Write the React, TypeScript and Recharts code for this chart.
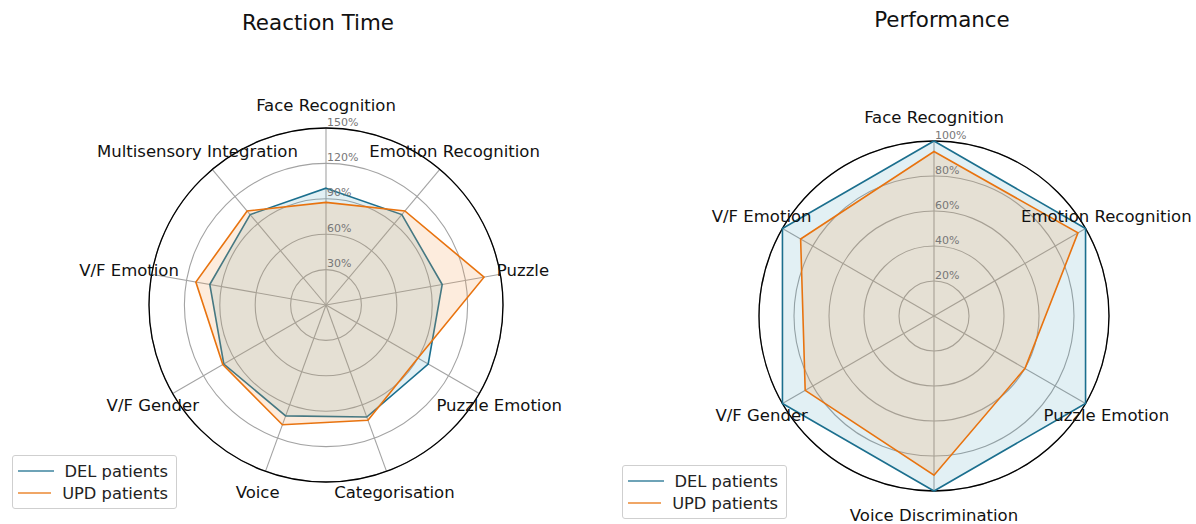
import { Legend, PolarAngleAxis, PolarGrid, PolarRadiusAxis, Radar, RadarChart } from "recharts";

const rtCategories = [
  "Face Recognition",
  "Emotion Recognition",
  "Puzzle",
  "Puzzle Emotion",
  "Categorisation",
  "Voice",
  "V/F Gender",
  "V/F Emotion",
  "Multisensory Integration",
];
const rtDel = [99, 100, 100, 100, 101, 100, 100, 100, 100];
const rtUpd = [87, 104, 136, 90, 104, 108, 101, 112, 104];
const rtTicks = [0, 30, 60, 90, 120, 150];

const perfCategories = [
  "Face Recognition",
  "Emotion Recognition",
  "Puzzle Emotion",
  "Voice Discrimination",
  "V/F Gender",
  "V/F Emotion",
];
const perfDel = [100, 100, 100, 100, 100, 100];
const perfUpd = [94, 95, 60, 91, 85, 88];
const perfTicks = [0, 20, 40, 60, 80, 100];

const seriesNames = ["DEL patients", "UPD patients"];

const rtData = rtCategories.map((subject, i) => ({ subject, del: rtDel[i], upd: rtUpd[i] }));
const perfData = perfCategories.map((subject, i) => ({ subject, del: perfDel[i], upd: perfUpd[i] }));

const FONT = "'DejaVu Sans', Verdana, sans-serif";
const DEL_COLOR = "#1b6f8e";
const UPD_COLOR = "#e8730f";

const makeAngleTick = (cx: number, cy: number, labelR: number) => (props: any) => {
  const { x, y, payload } = props;
  const dx = x - cx;
  const dy = y - cy;
  const len = Math.sqrt(dx * dx + dy * dy) || 1;
  return (
    <text
      x={cx + (dx / len) * labelR}
      y={cy + (dy / len) * labelR}
      textAnchor="middle"
      dominantBaseline="central"
      fontSize={16.5}
      fontFamily={FONT}
      fill="#111"
    >
      {payload.value}
    </text>
  );
};

const RadiusTick = (props: any) => {
  const { x, y, payload } = props;
  if (payload.value === 0) return null;
  return (
    <text x={x + 1} y={y - 6} textAnchor="start" dominantBaseline="central" fontSize={11} fontFamily={FONT} fill="#777">
      {payload.value}%
    </text>
  );
};

const LegendBox = (props: any) => {
  const { payload } = props;
  return (
    <div
      style={{
        border: "1px solid #cfcfcf",
        borderRadius: 3,
        background: "rgba(255,255,255,0.85)",
        padding: "4px 8px 4px 5px",
        fontFamily: FONT,
        fontSize: 16.3,
        color: "#222",
        width: 150,
      }}
    >
      {payload.map((entry: any) => (
        <div key={entry.value} style={{ display: "flex", alignItems: "center", height: 22 }}>
          <svg width={36} height={4} style={{ marginRight: 11 }}>
            <line x1={0} x2={36} y1={2} y2={2} stroke={entry.color} strokeOpacity={0.85} strokeWidth={1.6} />
          </svg>
          <span style={{ whiteSpace: "nowrap" }}>{entry.value}</span>
        </div>
      ))}
    </div>
  );
};

type PanelProps = {
  title: string;
  data: any[];
  ticks: number[];
  left: number;
  cx: number;
  cy: number;
  r: number;
  labelR: number;
  titleX: number;
  titleTop: number;
  legendLeft: number;
  legendTop: number;
};

const Panel = ({ title, data, ticks, left, cx, cy, r, labelR, titleX, titleTop, legendLeft, legendTop }: PanelProps) => {
  return (
    <div style={{ position: "absolute", left, top: 0, width: 598, height: 524 }}>
      <div
        style={{
          position: "absolute",
          left: titleX,
          top: titleTop,
          transform: "translateX(-50%)",
          fontFamily: FONT,
          fontSize: 21.4,
          lineHeight: "21px",
          color: "#111",
          whiteSpace: "nowrap",
        }}
      >
        {title}
      </div>
      <RadarChart
        width={598}
        height={524}
        data={data}
        cx={cx}
        cy={cy}
        outerRadius={r}
        margin={{ top: 0, right: 0, bottom: 0, left: 0 }}
      >
        <PolarGrid gridType="circle" stroke="#a3a3a3" strokeWidth={1.1} />
        <PolarGrid gridType="circle" polarRadius={[r]} radialLines={false} stroke="#000" strokeWidth={1.3} />
        <PolarAngleAxis dataKey="subject" tick={makeAngleTick(cx, cy, labelR)} tickLine={false} axisLine={false} />
        <PolarRadiusAxis
          angle={90}
          domain={[ticks[0], ticks[ticks.length - 1]]}
          ticks={ticks}
          tickCount={ticks.length}
          tick={RadiusTick}
          axisLine={false}
          tickLine={false}
        />
        <Radar
          name={seriesNames[0]}
          dataKey="del"
          stroke={DEL_COLOR}
          strokeWidth={1.6}
          fill="#3a9ab5"
          fillOpacity={0.15}
          isAnimationActive={false}
        />
        <Radar
          name={seriesNames[1]}
          dataKey="upd"
          stroke={UPD_COLOR}
          strokeWidth={1.6}
          fill="#f5a055"
          fillOpacity={0.2}
          isAnimationActive={false}
        />
        <Legend content={LegendBox} wrapperStyle={{ left: legendLeft, top: legendTop, width: "auto", bottom: "auto" }} />
      </RadarChart>
    </div>
  );
};

export default function App() {
  return (
    <div style={{ position: "absolute", left: 0, top: 0, width: 1196, height: 524, background: "#fff" }}>
      <Panel
        title="Reaction Time"
        data={rtData}
        ticks={rtTicks}
        left={0}
        cx={326}
        cy={305}
        r={177}
        labelR={200}
        titleX={318}
        titleTop={12}
        legendLeft={12}
        legendTop={455}
      />
      <Panel
        title="Performance"
        data={perfData}
        ticks={perfTicks}
        left={598}
        cx={336}
        cy={316}
        r={175}
        labelR={199}
        titleX={344}
        titleTop={9}
        legendLeft={24}
        legendTop={465}
      />
    </div>
  );
}
